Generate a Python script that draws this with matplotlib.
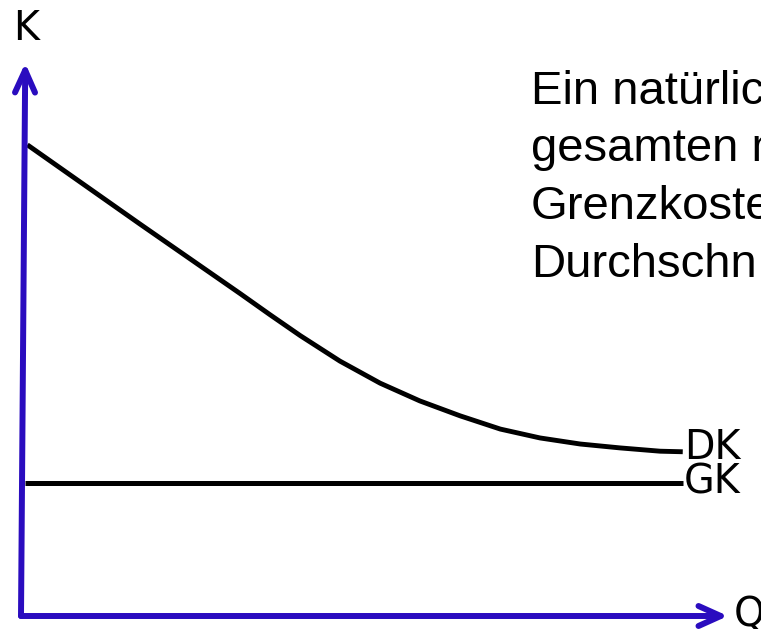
import matplotlib.pyplot as plt

### data (Q = Menge, K = Kosten)
q_dk = [0.09, 1.68, 3.10, 3.52, 3.95, 4.51, 5.08, 5.64, 6.21, 6.78, 7.34, 7.91, 8.47, 9.04, 9.36]
k_dk = [8.52, 7.09, 5.83, 5.45, 5.07, 4.61, 4.21, 3.89, 3.62, 3.38, 3.22, 3.11, 3.04, 2.98, 2.97]
q_gk = [0.06, 9.36]
k_gk = [2.40, 2.40]
curve_labels = ["DK", "GK"]
axis_labels = ["K", "Q"]
text_lines = ["Ein natürlic", "gesamten m", "Grenzkoste", "Durchschn"]

axis_color = "#2A0CBF"
W, H = 761, 629

fig = plt.figure(figsize=(W / 100, H / 100), dpi=100)
ax = fig.add_axes([21 / W, 13 / H, 707 / W, 553 / H])
ax.set_xlim(0, 10)
ax.set_ylim(0, 10)
ax.axis("off")

### axes as arrows
arrow = dict(arrowstyle="->,head_length=0.8,head_width=0.36", mutation_scale=20,
             color=axis_color, lw=4.3, shrinkA=0, shrinkB=0,
             capstyle="round", joinstyle="round")
ax.annotate("", xy=(0.06, 10), xytext=(0, 0), arrowprops=arrow, annotation_clip=False)
ax.annotate("", xy=(10, 0), xytext=(0, 0), arrowprops=arrow, annotation_clip=False)

### cost curves
ax.plot(q_dk, k_dk, color="black", lw=3.5, solid_capstyle="butt",
        solid_joinstyle="round", clip_on=False)
ax.plot(q_gk, k_gk, color="black", lw=3.6, solid_capstyle="butt", clip_on=False)

lab_font = dict(family="DejaVu Sans", size=28.5, color="black")
ax.annotate(curve_labels[0], xy=(q_dk[-1], k_dk[-1]), xytext=(1, -5),
            textcoords="offset points", va="baseline", ha="left", **lab_font)
ax.annotate(curve_labels[1], xy=(q_gk[-1], k_gk[-1]), xytext=(1, -7.2),
            textcoords="offset points", va="baseline", ha="left", **lab_font)

ax.annotate(axis_labels[0], xy=(0.06, 10), xytext=(-9, 16.5),
            textcoords="offset points", va="baseline", ha="left",
            annotation_clip=False, **lab_font)
ax.annotate(axis_labels[1], xy=(10, 0), xytext=(4, -7),
            textcoords="offset points", va="baseline", ha="left",
            annotation_clip=False, **lab_font)

### text block on the right (cut off at the edge)
baselines = [104, 161, 219, 277]
for line, yb in zip(text_lines, baselines):
    fig.text(531 / W, 1 - yb / H, line, family="Liberation Sans", size=34,
             va="baseline", ha="left", color="black")

fig.savefig("out.png", dpi=100)
